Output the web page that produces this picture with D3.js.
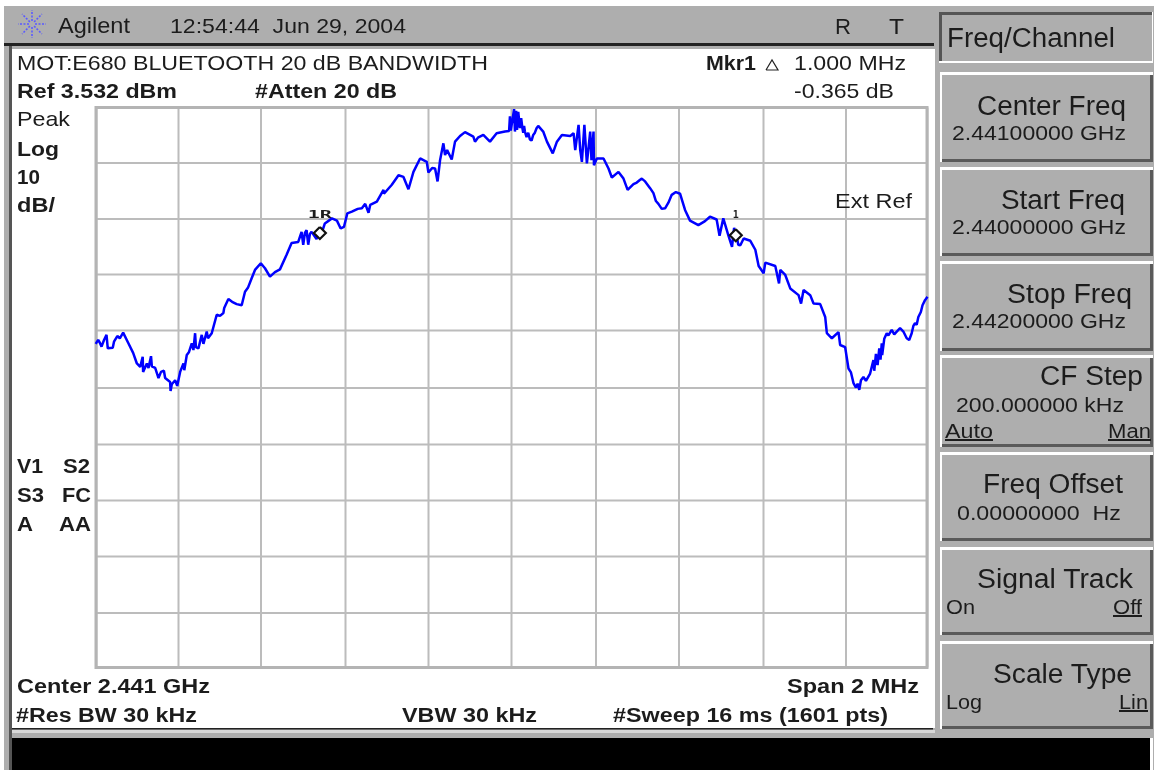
<!DOCTYPE html>
<html><head><meta charset="utf-8">
<script src="https://cdn.jsdelivr.net/npm/d3@7"></script>
<style>html,body{margin:0;padding:0;background:#fff;overflow:hidden}svg{display:block;filter:blur(0.4px)}text{font-family:"Liberation Sans",Arial,sans-serif;fill:#1c1c1c}</style>
</head><body><svg id="c" width="1156" height="770"></svg>
<script>
// sweep readings: offset from start frequency (kHz) and level (dBm)
const freqKHz=[0,6,10,14,20,26,29,41,44,52,58,66,78,90,99,107,113,114,123,127,133,135,143,151,157,164,167,179,180,183,191,196,203,211,213,219,224,231,235,239,241,247,255,259,267,270,279,291,299,307,309,319,328,339,351,359,366,375,383,397,407,419,431,443,459,471,487,495,499,503,507,511,515,519,531,535,543,551,568,580,589,597,605,616,630,640,648,656,660,676,692,693,712,728,740,752,764,780,796,800,809,816,822,828,836,840,845,856,864,876,888,908,912,919,932,948,964,984,994,996,998,1006,1008,1011,1013,1016,1020,1023,1032,1044,1052,1064,1076,1085,1099,1109,1121,1141,1149,1153,1161,1165,1169,1175,1181,1189,1192,1197,1198,1205,1221,1233,1241,1257,1269,1279,1293,1321,1333,1353,1369,1385,1405,1417,1429,1449,1465,1477,1493,1500,1509,1521,1530,1535,1542,1545,1550,1558,1574,1586,1594,1606,1610,1634,1643,1646,1658,1670,1690,1696,1702,1718,1726,1742,1754,1758,1770,1786,1790,1802,1810,1822,1836,1846,1852,1862,1870,1890,1891,1902,1926,1934,1950,1962,1970,1978,1994,2000];
const levelDbm=[-38.7,-38.0,-38.5,-39.2,-38.0,-37.1,-39.5,-39.4,-38.3,-37.3,-37.7,-36.7,-38.5,-40.3,-42.2,-42.8,-41.0,-43.7,-42.2,-43.0,-40.9,-42.7,-43.0,-44.8,-43.7,-43.5,-44.8,-45.5,-47.1,-45.9,-45.2,-46.2,-43.7,-42.2,-43.4,-40.7,-40.2,-38.6,-39.8,-36.8,-39.3,-39.5,-37.1,-38.7,-36.5,-37.7,-36.8,-33.5,-33.7,-33.2,-32.3,-30.7,-31.2,-31.6,-31.8,-29.4,-28.7,-27.0,-25.5,-24.3,-25.2,-26.7,-25.9,-25.4,-22.8,-20.7,-20.5,-18.7,-21.0,-18.9,-18.4,-21.0,-19.1,-18.7,-20.0,-18.8,-19.0,-17.2,-16.3,-16.7,-18.1,-17.8,-15.4,-15.1,-14.6,-14.5,-13.7,-15.3,-13.9,-13.3,-11.2,-11.9,-10.3,-8.6,-8.9,-11.1,-8.0,-5.6,-6.2,-8.1,-7.3,-7.4,-9.7,-5.9,-2.9,-5.0,-4.1,-5.8,-2.6,-1.6,-0.9,-1.7,-2.6,-1.9,-1.4,-2.6,-1.1,-0.8,-0.7,1.9,-0.6,3.2,-0.8,2.9,-0.5,2.7,-0.2,1.6,-0.8,-2.2,-1.4,0.2,-0.8,-2.6,-4.7,-2.6,-1.4,-1.6,-1.1,-4.1,0.4,-4.1,-6.2,0.4,-6.5,-0.8,-5.9,-0.8,-6.8,-5.6,-5.6,-7.4,-9.0,-8.0,-9.2,-11.2,-10.2,-9.7,-10.9,-13.7,-14.5,-12.1,-11.9,-14.8,-16.7,-17.5,-16.8,-16.0,-16.5,-19.4,-16.3,-19.3,-21.4,-18.0,-19.8,-21.0,-21.1,-19.9,-20.3,-21.9,-24.8,-26.1,-24.2,-24.8,-27.9,-25.5,-26.4,-28.8,-30.0,-31.5,-29.1,-30.0,-31.5,-31.6,-33.9,-36.8,-37.7,-36.6,-38.9,-39.3,-43.1,-45.7,-46.9,-44.6,-45.3,-44.0,-41.6,-38.6,-40.7,-36.8,-36.5,-35.9,-37.7,-36.8,-35.0,-33.9,-30.9,-30.3];
// further readings in the noisier stretches
const extraKHz=[1026,1028,1030,1036,1040,1048,1056,1060,1301,1309,1313,1341,1347,1361,1377,1395,1816,1828,1832,1840,1872,1876,1880,1884,1887,1896,1906,1914,1920,1942,1956,1966,1974,1984,1988];
const extraDbm=[-0.2,-1.0,0.2,-1.8,-1.0,-2.4,-1.0,-0.2,-9.9,-9.4,-9.2,-11.8,-13.2,-14.6,-13.5,-11.6,-43.8,-46.5,-45.8,-45.2,-43.5,-40.5,-42.5,-39.5,-41.5,-37.8,-37.2,-36.2,-37.0,-36.5,-38.0,-35.5,-35.3,-33.0,-31.8];
const markerKHz=[539,1539];
const markerDbm=[-18.9,-19.3];
const markerNames=["1R","1"];
const spanKHz=2000, refDbm=3.53, divDb=10;
const gridKHz=d3.range(0,2001,200);
const gridDbm=d3.range(0,11).map(i=>refDbm-i*divDb);

const svg=d3.select("#c");
const rect=(x,y,w,h,f)=>svg.append("rect").attr("x",x).attr("y",y).attr("width",w).attr("height",h).attr("fill",f);
const txt=(s,x0,x1,y,size,opt={})=>{
  const t=svg.append("text").attr("x",x0).attr("y",y).attr("font-size",size)
    .attr("textLength",x1-x0).attr("lengthAdjust","spacingAndGlyphs").text(s);
  if(opt.bold)t.attr("font-weight","bold");
  if(opt.u)t.attr("text-decoration","underline");
  return t;
};
// instrument frame
rect(4,6,1150,764,"#aeaeae");
rect(4,43,930,3,"#222");
rect(9,46,3,724,"#555");
rect(12,49,923,679,"#fff");
rect(12,728,921,1.5,"#222");
rect(12,730,923,3,"#d8d8d8");
rect(12,738,1138,32,"#000");
rect(1150,738,3,32,"#fff");

// softkeys
const softkeyTops=[72,167,261,355,452,547,641], softkeyBottoms=[162,256,351,447,541,635,729];
softkeyTops.forEach((t,i)=>{
  const b=softkeyBottoms[i];
  rect(940,t,213,b-t,"#fff");
  rect(942,t+3,211,b-t-3,"#5a5a5a");
  rect(942,t+3,208,b-t-6,"#aeaeae");
});
rect(939,12,214,51,"#fff");
rect(939,12,213,49,"#555");
rect(942,15,210,46,"#aeaeae");

// header
const logo=svg.append("g").attr("transform","translate(32,24)");
d3.range(8).forEach(i=>{
  const a=i*Math.PI/4;
  logo.append("line").attr("x1",3*Math.cos(a)).attr("y1",3*Math.sin(a)).attr("x2",14*Math.cos(a)).attr("y2",14*Math.sin(a))
    .attr("stroke","#5a5aff").attr("stroke-width",1.6).attr("stroke-dasharray","2 1.5");
});
txt("Agilent",58,130,33,22);
txt("12:54:44  Jun 29, 2004",170,406,33,21).attr("xml:space","preserve");
txt("R",835,851,34,22);
txt("T",889,904,34,22);
txt("Freq/Channel",947,1115,47,27);

// annotations
txt("MOT:E680 BLUETOOTH 20 dB BANDWIDTH",17,488,70,21);
txt("Ref 3.532 dBm",17,177,98,20,{bold:1});
txt("#Atten 20 dB",255,397,98,20,{bold:1});
txt("Mkr1",706,756,70,20,{bold:1});
svg.append("path").attr("d",d3.line()([[766,70],[778,70],[772,60],[766,70]])).attr("fill","none").attr("stroke","#222").attr("stroke-width",1.2);
txt("1.000 MHz",794,906,70,21);
txt("-0.365 dB",794,894,98,21);
txt("Peak",17,70,126,21);
txt("Log",17,156,156,21,{bold:1}).attr("textLength",42);
txt("10",17,40,184,21,{bold:1});
txt("dB/",17,55,212,21,{bold:1});
txt("V1",17,43,473,20,{bold:1});txt("S2",63,90,473,20,{bold:1});
txt("S3",17,44,502,20,{bold:1});txt("FC",62,91,502,20,{bold:1});
txt("A",17,33,531,20,{bold:1});txt("AA",59,91,531,20,{bold:1});
txt("Center 2.441 GHz",17,210,693,20,{bold:1});
txt("#Res BW 30 kHz",16,197,722,20,{bold:1});
txt("VBW 30 kHz",402,537,722,20,{bold:1});
txt("Span 2 MHz",787,919,693,20,{bold:1});
txt("#Sweep 16 ms (1601 pts)",613,888,722,20,{bold:1});

// softkey labels
[["Center Freq",977,1126,115,27],["2.44100000 GHz",952,1126,140,21],
 ["Start Freq",1001,1125,209,27],["2.44000000 GHz",952,1126,234,21],
 ["Stop Freq",1007,1132,303,27],["2.44200000 GHz",952,1126,328,21],
 ["CF Step",1040,1143,385,27],["200.000000 kHz",956,1124,412,21],
 ["Freq Offset",983,1123,493,27],["0.00000000  Hz",957,1121,520,21],
 ["Signal Track",977,1133,588,27],["On",946,975,614,20],
 ["Scale Type",993,1132,683,27],["Log",946,982,709,20]
].forEach(a=>txt(...a).attr("xml:space","preserve"));
txt("Auto",945,993,438,20,{u:1});txt("Man",1108,1151,438,20,{u:1});
txt("Off",1113,1142,614,20,{u:1});txt("Lin",1119,1148,709,20,{u:1});

// scales: the graticule pixels are unevenly rounded on the instrument's display
const gridX=d3.scaleLinear().domain(gridKHz).range([96,178,260.5,345,428,511,595.5,678.5,763,845.5,927]);
const gridY=d3.scaleLinear().domain(gridDbm).range([107.5,162.5,218.5,274,330,387.5,444,500,556,612.5,667.5]);
const x=d3.scaleLinear().domain([0,spanKHz]).range([95.7,927.5]);
const y=d3.scaleLinear().domain([refDbm,refDbm-100]).range([107.3,667.5]);

const ax=svg.append("g").attr("transform","translate(0,667.5)")
  .call(d3.axisBottom(gridX).tickValues(gridKHz).tickSize(-560).tickFormat(""));
const ay=svg.append("g").attr("transform","translate(96,0)")
  .call(d3.axisLeft(gridY).tickValues(gridDbm).tickSize(-831).tickFormat(""));
[ax,ay].forEach(g=>{g.select(".domain").remove();g.selectAll("line").attr("stroke","#bcbcbc").attr("stroke-width",2);});
svg.append("rect").attr("x",96).attr("y",107.5).attr("width",831).attr("height",560).attr("fill","none").attr("stroke","#b4b4b4").attr("stroke-width",3);

txt("Ext Ref",835,912,208,21);

// trace
const trace=freqKHz.map((f,i)=>[f,levelDbm[i]]).concat(extraKHz.map((f,i)=>[f,extraDbm[i]]))
  .sort((a,b)=>d3.ascending(a[0],b[0]));
svg.append("path").datum(trace)
  .attr("d",d3.line().x(d=>x(d[0])).y(d=>y(d[1])))
  .attr("fill","none").attr("stroke","#0000ff").attr("stroke-width",2.5).attr("stroke-linejoin","bevel");

// markers
markerKHz.forEach((f,i)=>{
  const px=x(f),py=y(markerDbm[i]);
  svg.append("path").attr("transform",`translate(${px},${py})`)
    .attr("d",d3.line()([[0,-6],[6,0],[0,6],[-6,0],[0,-6]])).attr("fill","#fff").attr("stroke","#111").attr("stroke-width",2.2);
  const t=svg.append("text").attr("x",px).attr("y",218).attr("text-anchor","middle")
    .style("font-family","'DejaVu Sans Mono',monospace").attr("font-size",10).attr("font-weight","bold").text(markerNames[i]);
  if(markerNames[i].length>1)t.attr("textLength",24).attr("lengthAdjust","spacingAndGlyphs");
});
</script></body></html>
